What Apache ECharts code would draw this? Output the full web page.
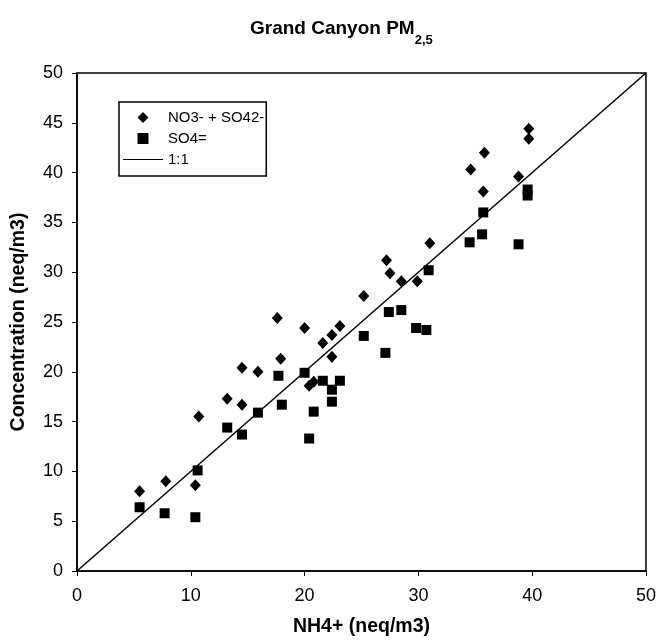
<!DOCTYPE html>
<html>
<head>
<meta charset="utf-8">
<script src="https://cdn.jsdelivr.net/npm/echarts@6/dist/echarts.min.js"></script>
<style>html,body{margin:0;padding:0;background:#fff;}#c{width:659px;height:642px;}</style>
</head>
<body>
<div id="c"></div>
<script>
var seriesNames = ['NO3- + SO42-', 'SO4=', '1:1'];
var no3so4X = [5.5,7.8,10.4,10.7,13.2,14.5,14.5,15.9,17.6,17.9,20.0,20.4,20.8,21.6,22.4,23.1,22.4,25.2,27.2,27.5,28.5,29.9,31.0,35.8,34.6,35.7,38.8,39.7,39.7];
var no3so4Y = [8.0,9.0,8.6,15.5,17.3,16.7,20.4,20.0,25.4,21.3,24.4,18.6,19.0,22.9,23.7,24.6,21.5,27.6,31.2,29.9,29.1,29.1,32.9,42.0,40.3,38.1,39.6,44.4,43.4];
var so4X = [5.5,7.7,10.4,10.6,13.2,14.5,15.9,18.0,17.7,20.0,20.4,20.8,21.6,23.1,22.4,22.4,25.2,27.1,27.4,28.5,29.8,30.7,30.9,34.5,35.6,35.7,38.8,39.6,39.6];
var so4Y = [6.4,5.8,5.4,10.1,14.4,13.7,15.9,16.7,19.6,19.9,13.3,16.0,19.1,19.1,18.2,17.0,23.6,21.9,26.0,26.2,24.4,24.2,30.2,33.0,33.8,36.0,32.8,38.3,37.7];
var lineX = [0, 50];
var lineY = [0, 50];
var xTicks = [0, 10, 20, 30, 40, 50];
var yTicks = [0, 5, 10, 15, 20, 25, 30, 35, 40, 45, 50];

function zip(a, b) { return a.map(function (v, i) { return [v, b[i]]; }); }

var font = 'Arial, "Liberation Sans", sans-serif';
var chart = echarts.init(document.getElementById('c'), null, {renderer: 'canvas'});
chart.setOption({
  animation: false,
  backgroundColor: '#fff',
  title: {
    text: '{a|Grand Canyon PM}{b|2,5}',
    left: 245,
    top: 12,
    textStyle: {
      rich: {
        a: {fontFamily: font, fontSize: 19, fontWeight: 'bold', color: '#000', lineHeight: 24},
        b: {fontFamily: font, fontSize: 13, fontWeight: 'bold', color: '#000', verticalAlign: 'bottom', lineHeight: 14, padding: [0, 0, -6, 0]}
      }
    }
  },
  grid: {left: 77, right: 13, top: 73, bottom: 70, show: true, borderColor: '#000', borderWidth: 1.5, backgroundColor: 'transparent'},
  legend: {
    orient: 'vertical',
    left: 119, top: 102,
    itemWidth: 40, itemHeight: 11, itemGap: 6,
    padding: [8, 2, 9, 4],
    borderColor: '#000', borderWidth: 1.5,
    backgroundColor: '#fff',
    textStyle: {fontFamily: font, fontSize: 15, color: '#000'},
    data: [
      {name: seriesNames[0], icon: 'path://M5,0L10,5L5,10L0,5Z'},
      {name: seriesNames[1], icon: 'path://M0,0H10V10H0Z'},
      {name: seriesNames[2], icon: 'path://M0,0H40V1H0Z'}
    ]
  },
  xAxis: {
    type: 'value', min: 0, max: 50, interval: 10,
    name: 'NH4+ (neq/m3)', nameLocation: 'middle', nameGap: 46,
    nameTextStyle: {fontFamily: font, fontSize: 19.5, fontWeight: 'bold', color: '#000'},
    axisLine: {show: true, onZero: false, lineStyle: {color: '#000', width: 1.5}},
    axisTick: {show: true, inside: false, length: 5, lineStyle: {color: '#000'}},
    axisLabel: {fontFamily: font, fontSize: 18, color: '#000', margin: 16},
    splitLine: {show: false}
  },
  yAxis: {
    type: 'value', min: 0, max: 50, interval: 5,
    name: 'Concentration (neq/m3)', nameLocation: 'middle', nameGap: 48,
    nameTextStyle: {fontFamily: font, fontSize: 19.5, fontWeight: 'bold', color: '#000'},
    axisLine: {show: true, onZero: false, lineStyle: {color: '#000', width: 1.5}},
    axisTick: {show: true, inside: false, length: 5, lineStyle: {color: '#000'}},
    axisLabel: {fontFamily: font, fontSize: 18, color: '#000', margin: 14},
    splitLine: {show: false}
  },
  series: [
    {name: seriesNames[0], type: 'scatter', symbol: 'diamond', symbolSize: [11, 12], itemStyle: {color: '#000', opacity: 1}, data: zip(no3so4X, no3so4Y), z: 3},
    {name: seriesNames[1], type: 'scatter', symbol: 'rect', symbolSize: 10, itemStyle: {color: '#000', opacity: 1}, data: zip(so4X, so4Y), z: 3},
    {name: seriesNames[2], type: 'line', symbol: 'none', lineStyle: {color: '#000', width: 1.5}, itemStyle: {color: '#000'}, data: zip(lineX, lineY), z: 2}
  ]
});
</script>
</body>
</html>
